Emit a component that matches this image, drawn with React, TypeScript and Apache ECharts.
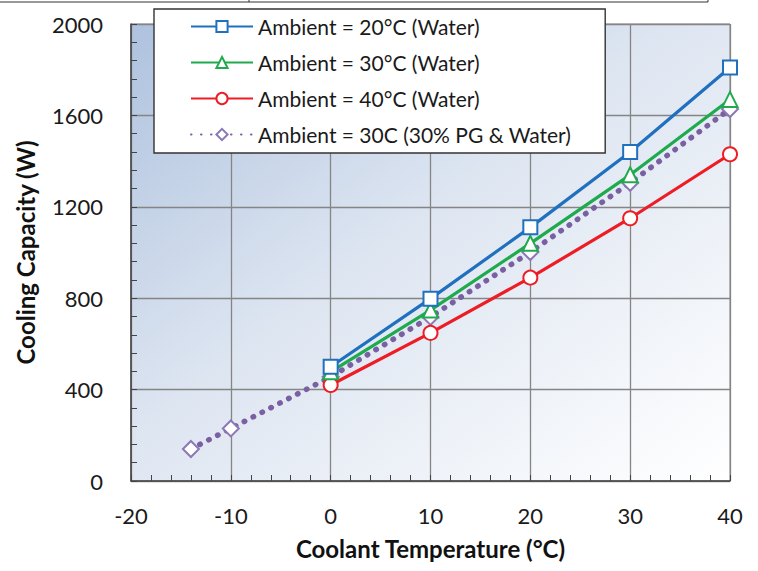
import React, { useEffect, useRef } from "react";
import * as echarts from "echarts";

const coolantTemps = [0, 10, 20, 30, 40];
const ambient20 = [500, 798, 1110, 1440, 1810];
const ambient30 = [478, 748, 1040, 1340, 1670];
const ambient40 = [420, 648, 890, 1150, 1430];
const pgTemps = [-14, -10, 0, 10, 20, 30, 40];
const pg30 = [140, 230, 456, 718, 1002, 1305, 1628];

const seriesNames = [
  "Ambient = 20°C (Water)",
  "Ambient = 30°C (Water)",
  "Ambient = 40°C (Water)",
  "Ambient = 30C (30% PG & Water)",
];

const FONT = "Lato, 'Open Sans', sans-serif";

function pairs(xs: number[], ys: number[]) {
  return xs.map((x, i) => [x, ys[i]]);
}

export default function App() {
  const ref = useRef<HTMLDivElement>(null);
  useEffect(() => {
    if (!ref.current) return;
    const chart = echarts.init(ref.current, undefined, { renderer: "svg" });
    const gridColor = "#858585";
    chart.setOption({
      animation: false,
      backgroundColor: "#ffffff",
      textStyle: { fontFamily: FONT },
      grid: {
        left: 131,
        right: 28,
        top: 24,
        bottom: 90,
        show: true,
        borderColor: gridColor,
        borderWidth: 1,
        backgroundColor: new echarts.graphic.LinearGradient(0, 0, 1, 1, [
          { offset: 0, color: "#aec2de" },
          { offset: 0.45, color: "#dde5f1" },
          { offset: 1, color: "#ffffff" },
        ]),
      },
      legend: {
        orient: "vertical",
        left: 154,
        top: 9,
        data: seriesNames,
        backgroundColor: "#ffffff",
        borderColor: "#333333",
        borderWidth: 1.4,
        padding: [7, 34, 8, 36],
        itemWidth: 62,
        itemHeight: 14,
        itemGap: 15,
        textStyle: { fontSize: 21, color: "#1a1a1a", fontFamily: FONT },
      },
      xAxis: {
        type: "value",
        min: -20,
        max: 40,
        interval: 10,
        name: "Coolant Temperature (°C)",
        nameLocation: "middle",
        nameGap: 55,
        nameTextStyle: { fontSize: 24, fontWeight: "bold", color: "#111", fontFamily: FONT },
        axisLine: { show: true, onZero: false, lineStyle: { color: "#444", width: 1.5 } },
        axisTick: { show: true, inside: true, length: 6, lineStyle: { color: "#444" } },
        minorTick: { show: true, splitNumber: 5, length: 6, lineStyle: { color: "#444" } },
        axisLabel: { fontSize: 22, color: "#1a1a1a", margin: 23, fontFamily: FONT },
        splitLine: { show: true, lineStyle: { color: gridColor, width: 1.3 } },
      },
      yAxis: {
        type: "value",
        min: 0,
        max: 2000,
        interval: 400,
        name: "Cooling Capacity (W)",
        nameLocation: "middle",
        nameGap: 94,
        nameTextStyle: { fontSize: 24, fontWeight: "bold", color: "#111", fontFamily: FONT },
        axisLine: { show: true, onZero: false, lineStyle: { color: "#444", width: 1.5 } },
        axisTick: { show: true, inside: true, length: 6, lineStyle: { color: "#444" } },
        minorTick: { show: true, splitNumber: 5, length: 6, lineStyle: { color: "#444" } },
        axisLabel: {
          fontSize: 22,
          color: "#1a1a1a",
          margin: 28,
          fontFamily: FONT,
          formatter: (v: number) => String(v),
        },
        splitLine: { show: true, lineStyle: { color: gridColor, width: 1.3 } },
      },
      series: [
        {
          name: seriesNames[3],
          type: "line",
          data: pairs(pgTemps, pg30),
          symbol: "emptyDiamond",
          symbolSize: 16,
          color: "#7a5fa3",
          lineStyle: { width: 5.5, type: [0.5, 9.5], cap: "round", color: "#7a5fa3" },
          itemStyle: { borderWidth: 1.6, color: "#8c78b6" },
          z: 2,
        },
        {
          name: seriesNames[2],
          type: "line",
          data: pairs(coolantTemps, ambient40),
          symbol: "emptyCircle",
          symbolSize: 14,
          color: "#ee1c24",
          lineStyle: { width: 3.2, color: "#ee1c24" },
          itemStyle: { borderWidth: 2 },
          z: 3,
        },
        {
          name: seriesNames[1],
          type: "line",
          data: pairs(coolantTemps, ambient30),
          symbol: "emptyTriangle",
          symbolSize: 15,
          color: "#1faa4d",
          lineStyle: { width: 3.2, color: "#1faa4d" },
          itemStyle: { borderWidth: 2 },
          z: 4,
        },
        {
          name: seriesNames[0],
          type: "line",
          data: pairs(coolantTemps, ambient20),
          symbol: "emptyRect",
          symbolSize: 14,
          color: "#1f70be",
          lineStyle: { width: 3.2, color: "#1f70be" },
          itemStyle: { borderWidth: 2 },
          z: 5,
        },
      ],
      graphic: [
        { type: "line", shape: { x1: 0, y1: 2, x2: 708, y2: 2 }, style: { stroke: "#333", lineWidth: 1 } },
        { type: "line", shape: { x1: 249, y1: 0, x2: 249, y2: 2 }, style: { stroke: "#333", lineWidth: 1 } },
        { type: "line", shape: { x1: 708, y1: 0, x2: 708, y2: 2 }, style: { stroke: "#333", lineWidth: 1 } },
      ],
    });
    return () => chart.dispose();
  }, []);
  return (
    <div
      ref={ref}
      style={{ position: "fixed", left: 0, top: 0, width: 758, height: 571 }}
    />
  );
}
